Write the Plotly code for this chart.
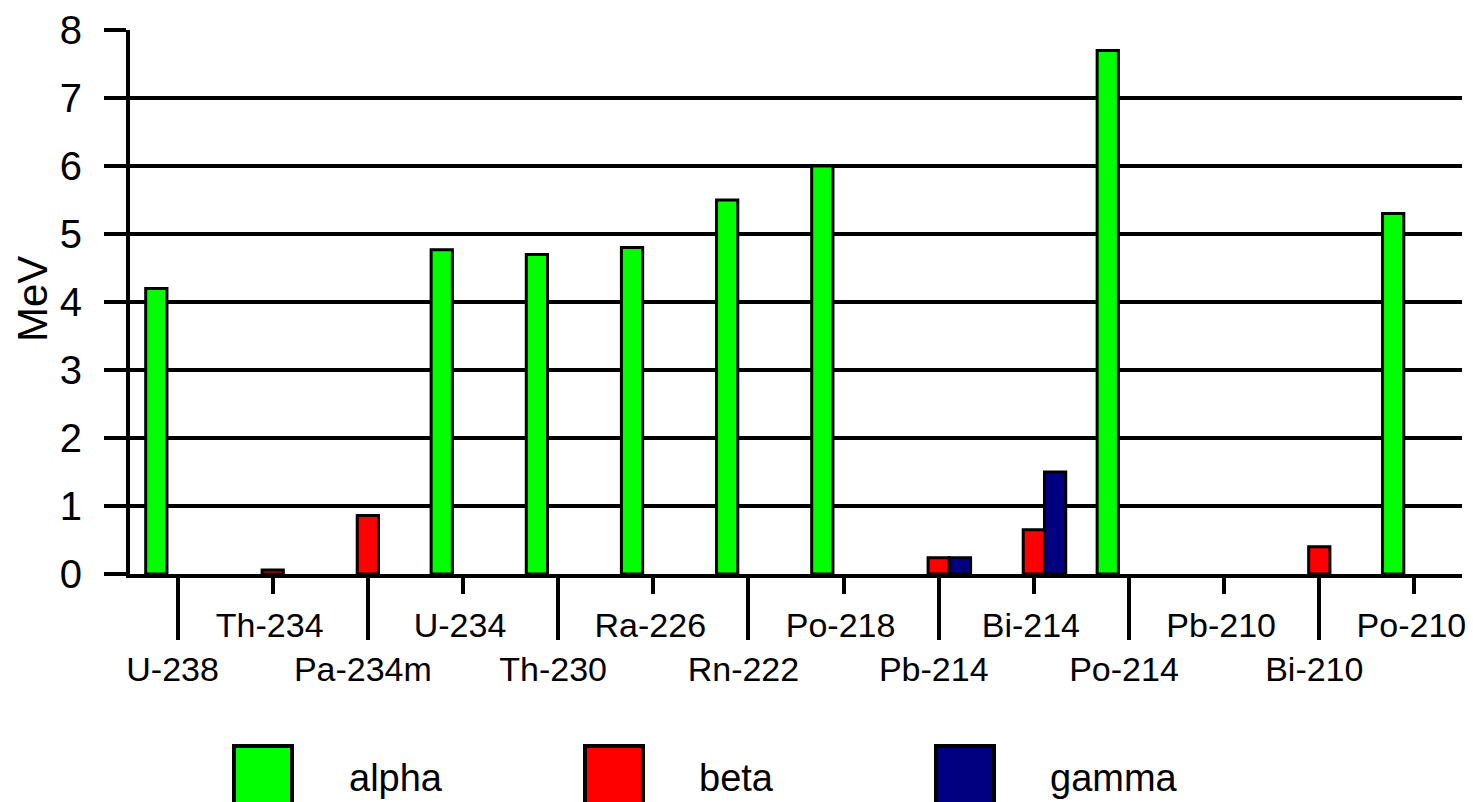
import plotly.graph_objects as go

isotopes = ["U-238", "Th-234", "Pa-234m", "U-234", "Th-230", "Ra-226", "Rn-222",
            "Po-218", "Pb-214", "Bi-214", "Po-214", "Pb-210", "Bi-210", "Po-210"]
alpha = [4.2, None, None, 4.77, 4.7, 4.8, 5.5, 6.0, None, None, 7.7, None, None, 5.3]
beta = [None, 0.06, 0.86, None, None, None, None, None, 0.24, 0.65, None, None, 0.4, None]
gamma = [None, None, None, None, None, None, None, None, 0.24, 1.5, None, None, None, None]

series = [("alpha", alpha, "#00ff00"), ("beta", beta, "#ff0000"), ("gamma", gamma, "#000080")]

# the page body adds an 8px margin, so the figure is a bit smaller than the window
PAGE = 8
W, H = 1473 - PAGE, 802 - PAGE
L, R, T, B = 122, 11, 22, 228
FONT = "Liberation Sans, Arial, sans-serif"

idx = list(range(len(isotopes)))
even = idx[0::2]
odd = idx[1::2]


def px_x(px):
    # window pixel -> paper coordinate
    return (px - PAGE - L) / (W - L - R)


def px_y(py):
    return (H - B - (py - PAGE)) / (H - T - B)


fig = go.Figure()
for name, vals, color in series:
    fig.add_trace(go.Bar(
        x=idx, y=vals, name=name, showlegend=False,
        marker=dict(color=color, line=dict(color="black", width=3)),
    ))

# empty trace so the overlaid axis with the short ticks gets drawn
fig.add_trace(go.Scatter(x=[], y=[], xaxis="x2", showlegend=False))

fig.update_layout(
    width=W, height=H,
    margin=dict(l=L, r=R, t=T, b=B, autoexpand=False),
    paper_bgcolor="white", plot_bgcolor="white",
    barmode="group", bargap=0.33, bargroupgap=0,
    font=dict(family=FONT, color="black"),
    xaxis=dict(
        range=[-0.5, 13.5], tickmode="array",
        tickvals=even, ticktext=[isotopes[i] for i in even],
        ticks="outside", ticklen=62, tickwidth=4, tickcolor="black",
        showline=True, linewidth=4, linecolor="black",
        showgrid=False, zeroline=False, automargin=False,
        tickfont=dict(size=34), ticklabelstandoff=0, ticklabelshift=-5,
    ),
    xaxis2=dict(
        range=[-0.5, 13.5], overlaying="x", anchor="y", side="bottom",
        tickmode="array", tickvals=odd, ticktext=[isotopes[i] for i in odd],
        ticks="outside", ticklen=19, tickwidth=4, tickcolor="black",
        showline=False, showgrid=False, zeroline=False, automargin=False,
        tickfont=dict(size=34), ticklabelstandoff=2, ticklabelshift=-3,
    ),
    yaxis=dict(
        range=[0, 8], dtick=1,
        showgrid=True, gridcolor="black", gridwidth=4,
        ticks="outside", ticklen=22, tickwidth=4, tickcolor="black",
        showline=True, linewidth=4, linecolor="black", automargin=False,
        zeroline=False, tickfont=dict(size=40), ticklabelstandoff=14,
    ),
)

fig.add_annotation(
    text="MeV", textangle=-90, xref="paper", yref="paper",
    x=px_x(32), y=px_y(299), xanchor="center", yanchor="middle",
    showarrow=False, font=dict(size=42),
)

# legend drawn by hand: big outlined squares along the bottom
legend_px = [(234, 347), (585, 697), (936, 1048)]
for (sq_x, txt_x), (name, _, color) in zip(legend_px, series):
    fig.add_shape(
        type="rect", xref="paper", yref="paper",
        x0=px_x(sq_x), x1=px_x(sq_x + 58), y0=px_y(746), y1=px_y(806),
        fillcolor=color, line=dict(color="black", width=4),
    )
    fig.add_annotation(
        text=name, xref="paper", yref="paper",
        x=px_x(txt_x), y=px_y(801), xanchor="left", yanchor="bottom",
        showarrow=False, font=dict(size=38),
    )

fig.write_html("out.html")
